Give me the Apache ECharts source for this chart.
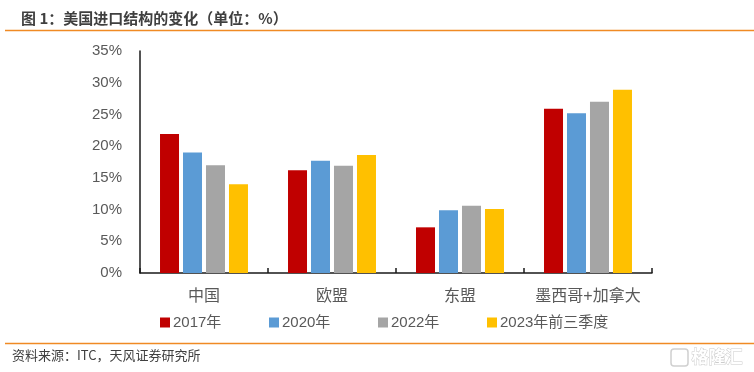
<!DOCTYPE html>
<html><head><meta charset="utf-8">
<script src="https://cdn.jsdelivr.net/npm/echarts@6/dist/echarts.min.js"></script>
<style>html,body{margin:0;padding:0;background:#fff}#c{width:754px;height:372px}</style>
</head><body><div id="c"></div>
<script>
const categories = ['中国', '欧盟', '东盟', '墨西哥+加拿大'];
const seriesNames = ['2017年', '2020年', '2022年', '2023年前三季度'];
const v2017 = [21.9, 16.2, 7.2, 25.9];
const v2020 = [19.0, 17.7, 9.9, 25.2];
const v2022 = [17.0, 16.9, 10.6, 27.0];
const v2023 = [14.0, 18.6, 10.1, 28.9];
const yTicks = [0, 5, 10, 15, 20, 25, 30, 35];
const colors = ['#C00000', '#5B9BD5', '#A5A5A5', '#FFC000'];
const seriesData = [v2017, v2020, v2022, v2023];

const font = '"Liberation Sans","Noto Sans CJK SC",sans-serif';
const legendLefts = [155, 264, 373, 482];
const chart = echarts.init(document.getElementById('c'));
chart.setOption({
  animation: false,
  backgroundColor: '#fff',
  grid: { left: 140, right: 102, top: 51, bottom: 99 },
  title: {
    text: '图 1：美国进口结构的变化（单位：%）',
    left: 16, top: 6,
    textStyle: { fontSize: 15, fontWeight: 'bold', color: '#3f3f3f', fontFamily: '"Noto Sans CJK SC",sans-serif' }
  },
  legend: seriesNames.map((n, i) => ({
    data: [n],
    left: legendLefts[i], top: 310,
    itemWidth: 10, itemHeight: 10, itemGap: 0,
    icon: 'rect',
    textStyle: { fontSize: 15, color: '#595959', fontFamily: font, padding: [0, 0, 0, -2] }
  })),
  xAxis: {
    type: 'category',
    data: categories,
    axisLine: { lineStyle: { color: '#1a1a1a', width: 1.5 } },
    axisTick: { show: true, inside: true, length: 5, lineStyle: { color: '#1a1a1a', width: 1.5 } },
    axisLabel: { interval: 0, fontSize: 16, color: '#595959', fontFamily: font, margin: 16 }
  },
  yAxis: {
    type: 'value',
    min: yTicks[0], max: yTicks[yTicks.length - 1], interval: 5,
    axisLine: { show: true, lineStyle: { color: '#1a1a1a', width: 1.5 } },
    axisTick: { show: false },
    splitLine: { show: false },
    axisLabel: { fontSize: 15, color: '#595959', fontFamily: font, margin: 18, formatter: '{value}%' }
  },
  series: seriesNames.map((n, i) => ({
    name: n, type: 'bar', data: seriesData[i],
    barWidth: 19, barGap: '21%',
    itemStyle: { color: colors[i] }
  })),
  graphic: [
    { type: 'line', shape: { x1: 5, y1: 30.5, x2: 754, y2: 30.5 }, style: { stroke: '#F08A24', lineWidth: 1.5 } },
    { type: 'line', shape: { x1: 5, y1: 343.5, x2: 754, y2: 343.5 }, style: { stroke: '#F08A24', lineWidth: 1.5 } },
    { type: 'text', left: 12, top: 349, style: { text: '资料来源：ITC，天风证券研究所', fontSize: 13, fill: '#404040', fontFamily: '"Noto Sans CJK SC",sans-serif' } },
    { type: 'rect', shape: { x: 671, y: 349, width: 17, height: 17, r: 3 }, style: { fill: 'none', stroke: '#d0d0d0', lineWidth: 1.5 } },
    { type: 'text', left: 691, top: 348, style: { text: '格隆汇', fontSize: 17, fill: '#fff', stroke: '#cccccc', lineWidth: 1, fontWeight: 'bold', fontFamily: '"Noto Sans CJK SC",sans-serif' } }
  ]
});
</script></body></html>
